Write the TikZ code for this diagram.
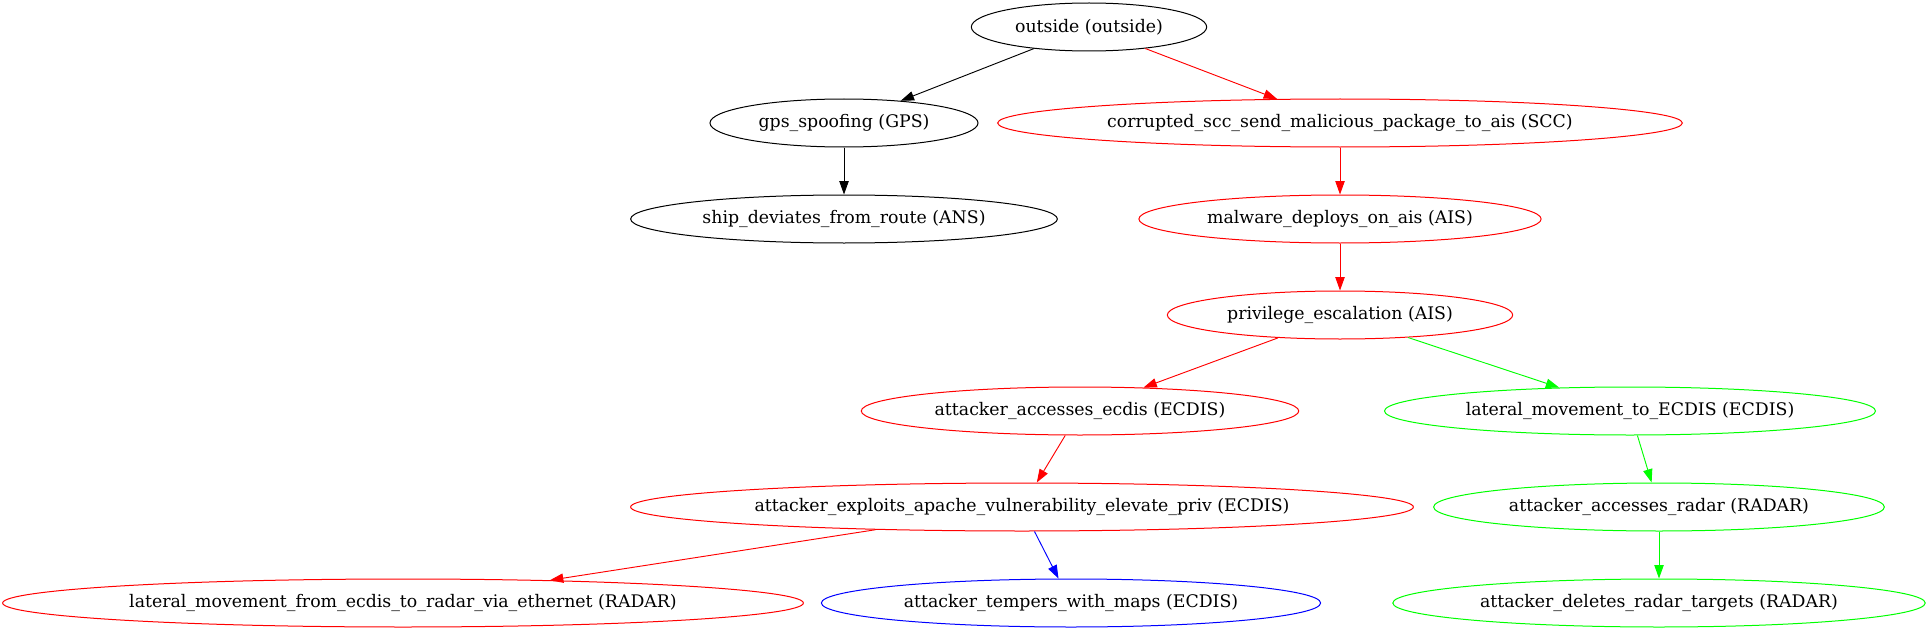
\documentclass[tikz,border=0pt]{standalone}
\usepackage{fontspec}
\setmainfont{DejaVu Serif}
\usepackage{tikz}
\usetikzlibrary{arrows.meta,shapes.geometric}

\definecolor{atkred}{RGB}{255,0,0}
\definecolor{atkgreen}{RGB}{0,255,0}
\definecolor{atkblue}{RGB}{0,0,255}

\begin{document}
\begin{tikzpicture}[x=0.75pt, y=-0.75pt,
    state/.style={draw, ellipse, line width=0.75pt, minimum height=36pt, inner xsep=7pt, inner ysep=2pt, font=\fontsize{13pt}{15pt}\selectfont},
    edge/.style={-{Triangle[length=10pt, width=7pt]}, line width=0.7pt}]
      \useasboundingbox (0,0) rectangle (1928,635);

      % Rank 0 and 1
      \node[state] (outside) at (1089, 27) {outside (outside)};
      \node[state] (gps) at (844, 123) {gps\_spoofing (GPS)};
      \node[state, draw=atkred] (scc) at (1340, 123) {corrupted\_scc\_send\_malicious\_package\_to\_ais (SCC)};

      % Rank 2 and 3
      \node[state] (ans) at (844, 219) {ship\_deviates\_from\_route (ANS)};
      \node[state, draw=atkred] (malware) at (1340, 219) {malware\_deploys\_on\_ais (AIS)};
      \node[state, draw=atkred] (priv) at (1340, 315) {privilege\_escalation (AIS)};

      % Rank 4 and 5
      \node[state, draw=atkred] (ecdis) at (1080, 411) {attacker\_accesses\_ecdis (ECDIS)};
      \node[state, draw=atkgreen] (latto) at (1630, 411) {lateral\_movement\_to\_ECDIS (ECDIS)};
      \node[state, draw=atkred] (apache) at (1022, 507) {attacker\_exploits\_apache\_vulnerability\_elevate\_priv (ECDIS)};
      \node[state, draw=atkgreen] (radar) at (1659, 507) {attacker\_accesses\_radar (RADAR)};

      % Rank 6
      \node[state, draw=atkred] (latfrom) at (403, 603) {lateral\_movement\_from\_ecdis\_to\_radar\_via\_ethernet (RADAR)};
      \node[state, draw=atkblue] (maps) at (1071, 603) {attacker\_tempers\_with\_maps (ECDIS)};
      \node[state, draw=atkgreen] (targets) at (1659, 603) {attacker\_deletes\_radar\_targets (RADAR)};

      % Edges
      \draw[edge] (outside) -- (gps);
      \draw[edge] (gps) -- (ans);
      \draw[edge, atkred] (outside) -- (scc);
      \draw[edge, atkred] (scc) -- (malware);
      \draw[edge, atkred] (malware) -- (priv);
      \draw[edge, atkred] (priv) -- (ecdis);
      \draw[edge, atkgreen] (priv) -- (latto);
      \draw[edge, atkred] (ecdis) -- (apache);
      \draw[edge, atkgreen] (latto) -- (radar);
      \draw[edge, atkred] (apache) -- (latfrom);
      \draw[edge, atkblue] (apache) -- (maps);
      \draw[edge, atkgreen] (radar) -- (targets);
    \end{tikzpicture}
\end{document}
